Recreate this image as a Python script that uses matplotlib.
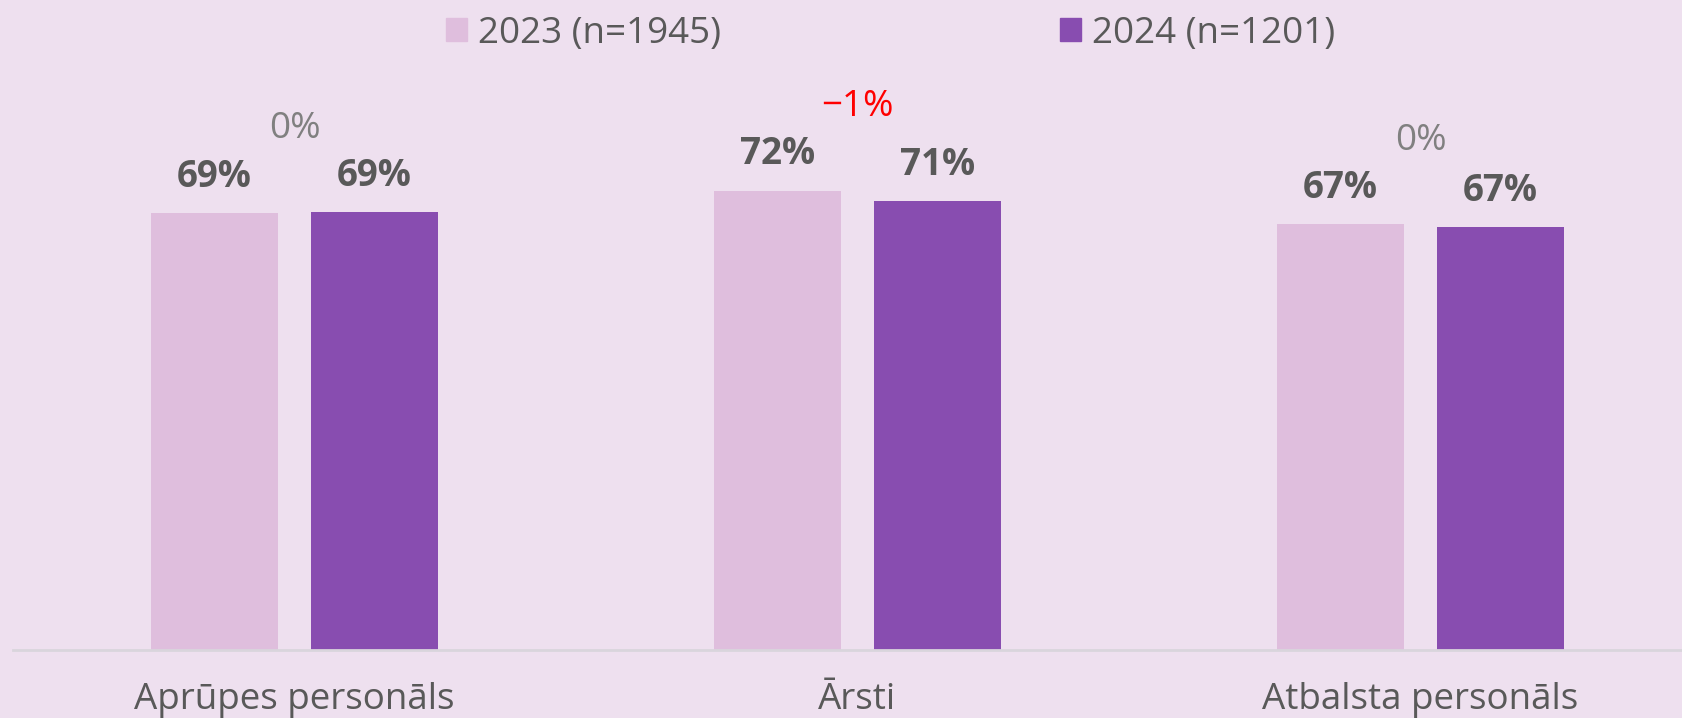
import matplotlib
matplotlib.use("Agg")
import matplotlib.pyplot as plt
from matplotlib.patches import Patch
import numpy as np

categories = ["Aprūpes personāls", "Ārsti", "Atbalsta personāls"]
series_names = ["2023 (n=1945)", "2024 (n=1201)"]
values_2023 = [68.9, 72.5, 67.2]
values_2024 = [69.1, 70.9, 66.8]

BG = "#eee0ef"
C23 = "#dfbedd"
C24 = "#884db0"
TXT = "#595959"

plt.rcParams['font.family'] = ['Open Sans', 'DejaVu Sans']

W, H = 1683, 718
fig = plt.figure(figsize=(W / 100, H / 100), dpi=100, facecolor=BG)
ax = fig.add_axes([13 / W, (H - 649.5) / H, 1689 / W, 633 / H])
ax.set_facecolor(BG)

x = np.arange(len(categories))
bw = 0.224
off = 0.142
b1 = ax.bar(x - off, values_2023, bw, color=C23, label=series_names[0], zorder=2)
b2 = ax.bar(x + off, values_2024, bw, color=C24, label=series_names[1], zorder=2)

ax.set_xlim(-0.5, len(categories) - 0.5)
ax.set_ylim(0, 100)
for s in ["top", "right", "left"]:
    ax.spines[s].set_visible(False)
ax.spines["bottom"].set_color("#d9d5dc")
ax.spines["bottom"].set_linewidth(2)
ax.set_yticks([])
ax.set_xticks(x)
ax.set_xticklabels(categories, fontsize=26.5, color=TXT)
ax.tick_params(axis="x", length=0, pad=23.5)

for bars, vals in ((b1, values_2023), (b2, values_2024)):
    for rect, v in zip(bars, vals):
        ax.annotate(f"{round(v)}%", (rect.get_x() + rect.get_width() / 2, v),
                    xytext=(0, 26), textcoords="offset points",
                    ha="center", va="center", fontsize=26.5, fontweight="bold",
                    color=TXT)

for i, (a, b) in enumerate(zip(values_2023, values_2024)):
    d = round(b) - round(a)
    if d < 0:
        txt, col = f"\u2212{abs(d)}%", "#ff0000"
    elif d > 0:
        txt, col = f"+{d}%", "#00a000"
    else:
        txt, col = "0%", "#808080"
    ax.annotate(txt, (x[i], max(a, b)), xytext=(0, 60), textcoords="offset points",
                ha="center", va="center", fontsize=26.5, color=col)

handles = [Patch(color=C23), Patch(color=C24)]
fig.legend(handles, series_names, loc="center", bbox_to_anchor=(0.529, 0.953),
           ncol=2, frameon=False, fontsize=26.5, labelcolor=TXT,
           handlelength=0.58, handleheight=0.58, handletextpad=0.3,
           columnspacing=9.2, borderpad=0, borderaxespad=0)

fig.savefig("out.png", dpi=100, facecolor=BG)
